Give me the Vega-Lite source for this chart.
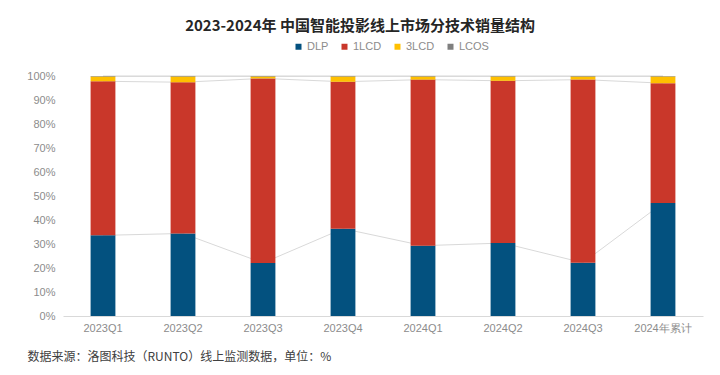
{
  "$schema": "https://vega.github.io/schema/vega-lite/v6.json",
  "autosize": {"type": "none"},
  "width": 640,
  "height": 240,
  "padding": {"left": 63, "top": 76, "right": 17, "bottom": 59},
  "background": "white",
  "title": {
    "text": "2023-2024年 中国智能投影线上市场分技术销量结构",
    "font": "Noto Sans CJK SC",
    "fontSize": 15,
    "fontWeight": "bold",
    "color": "#262626",
    "anchor": "middle",
    "frame": "group",
    "dx": -23,
    "offset": 7
  },
  "data": {
    "values": [
      {"q": "2023Q1", "tech": "DLP", "k": 1, "v": 33.6},
      {"q": "2023Q1", "tech": "1LCD", "k": 2, "v": 64.2},
      {"q": "2023Q1", "tech": "3LCD", "k": 3, "v": 2.0},
      {"q": "2023Q1", "tech": "LCOS", "k": 4, "v": 0.2},
      {"q": "2023Q2", "tech": "DLP", "k": 1, "v": 34.4},
      {"q": "2023Q2", "tech": "1LCD", "k": 2, "v": 63.0},
      {"q": "2023Q2", "tech": "3LCD", "k": 3, "v": 2.4},
      {"q": "2023Q2", "tech": "LCOS", "k": 4, "v": 0.2},
      {"q": "2023Q3", "tech": "DLP", "k": 1, "v": 22.1},
      {"q": "2023Q3", "tech": "1LCD", "k": 2, "v": 76.9},
      {"q": "2023Q3", "tech": "3LCD", "k": 3, "v": 0.8},
      {"q": "2023Q3", "tech": "LCOS", "k": 4, "v": 0.2},
      {"q": "2023Q4", "tech": "DLP", "k": 1, "v": 36.4},
      {"q": "2023Q4", "tech": "1LCD", "k": 2, "v": 61.2},
      {"q": "2023Q4", "tech": "3LCD", "k": 3, "v": 2.2},
      {"q": "2023Q4", "tech": "LCOS", "k": 4, "v": 0.2},
      {"q": "2024Q1", "tech": "DLP", "k": 1, "v": 29.3},
      {"q": "2024Q1", "tech": "1LCD", "k": 2, "v": 69.2},
      {"q": "2024Q1", "tech": "3LCD", "k": 3, "v": 1.3},
      {"q": "2024Q1", "tech": "LCOS", "k": 4, "v": 0.2},
      {"q": "2024Q2", "tech": "DLP", "k": 1, "v": 30.4},
      {"q": "2024Q2", "tech": "1LCD", "k": 2, "v": 67.6},
      {"q": "2024Q2", "tech": "3LCD", "k": 3, "v": 1.8},
      {"q": "2024Q2", "tech": "LCOS", "k": 4, "v": 0.2},
      {"q": "2024Q3", "tech": "DLP", "k": 1, "v": 22.2},
      {"q": "2024Q3", "tech": "1LCD", "k": 2, "v": 76.3},
      {"q": "2024Q3", "tech": "3LCD", "k": 3, "v": 1.3},
      {"q": "2024Q3", "tech": "LCOS", "k": 4, "v": 0.2},
      {"q": "2024年累计", "tech": "DLP", "k": 1, "v": 47.1},
      {"q": "2024年累计", "tech": "1LCD", "k": 2, "v": 49.9},
      {"q": "2024年累计", "tech": "3LCD", "k": 3, "v": 2.8},
      {"q": "2024年累计", "tech": "LCOS", "k": 4, "v": 0.2}
    ]
  },
  "transform": [
    {"stack": "v", "groupby": ["q"], "sort": [{"field": "k", "order": "ascending"}], "as": ["y0", "y1"]}
  ],
  "encoding": {
    "x": {
      "field": "q",
      "type": "nominal",
      "sort": null,
      "scale": {"paddingInner": 0.69, "paddingOuter": 0.345},
      "axis": {
        "labelAngle": 0,
        "labelFont": "Liberation Sans",
        "labelFontSize": 11,
        "labelColor": "#8c8c8c",
        "labelPadding": 6,
        "ticks": false,
        "domainColor": "#d9d9d9",
        "title": "数据来源：洛图科技（RUNTO）线上监测数据，单位：%",
        "titleFont": "Noto Sans CJK SC",
        "titleFontSize": 12,
        "titleFontWeight": "normal",
        "titleColor": "#404040",
        "titleAnchor": "start",
        "titleAlign": "left",
        "titleBaseline": "middle",
        "titleX": -36,
        "titleY": 40
      }
    },
    "y": {
      "field": "y1",
      "type": "quantitative",
      "scale": {"domain": [0, 100]},
      "axis": {
        "title": null,
        "values": [0, 10, 20, 30, 40, 50, 60, 70, 80, 90, 100],
        "labelExpr": "datum.value + '%'",
        "labelOverlap": false,
        "grid": false,
        "domain": false,
        "ticks": false,
        "labelFont": "Liberation Sans",
        "labelFontSize": 11,
        "labelColor": "#8c8c8c",
        "labelPadding": 8
      }
    }
  },
  "layer": [
    {
      "mark": {"type": "line", "color": "#d9d9d9", "strokeWidth": 1},
      "encoding": {
        "detail": {"field": "tech"}
      }
    },
    {
      "mark": {"type": "bar"},
      "encoding": {
        "y2": {"field": "y0"},
        "color": {
          "field": "tech",
          "type": "nominal",
          "scale": {
            "domain": ["DLP", "1LCD", "3LCD", "LCOS"],
            "range": ["#03517f", "#c9372a", "#ffc000", "#7f7f7f"]
          },
          "legend": {
            "title": null,
            "orient": "none",
            "direction": "horizontal",
            "legendX": 230,
            "legendY": -35,
            "symbolType": "square",
            "symbolSize": 36,
            "symbolStrokeWidth": 0,
            "labelFont": "Liberation Sans",
            "labelFontSize": 11,
            "labelColor": "#8c8c8c",
            "columnPadding": 10,
            "labelOffset": 3
          }
        }
      }
    }
  ],
  "config": {"view": {"stroke": null}}
}
